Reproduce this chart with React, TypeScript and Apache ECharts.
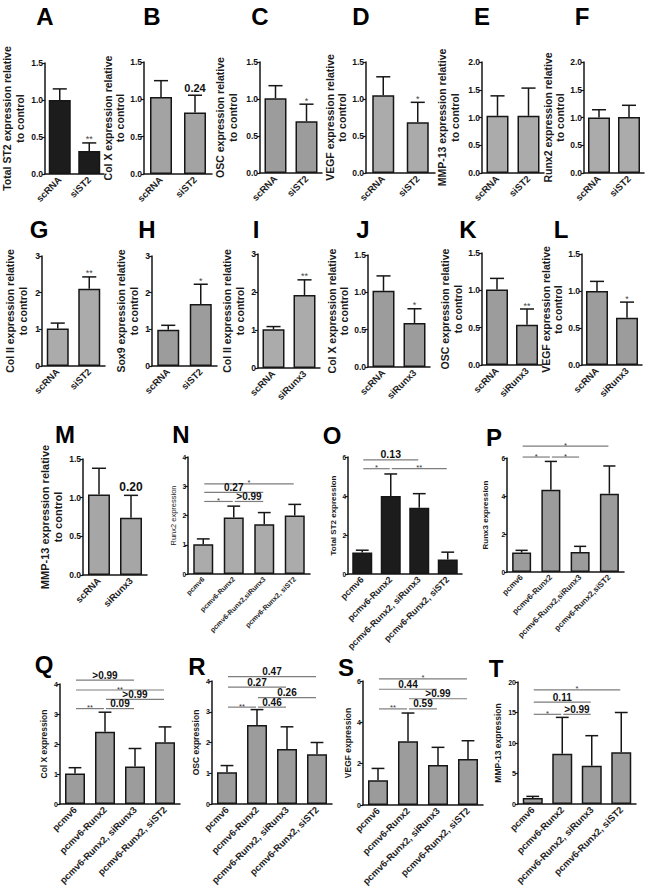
import React, { useEffect, useRef } from "react";
import * as echarts from "echarts";

// ---------- categories ----------
const stCats = ["scRNA", "siST2"];
const rxCats = ["scRNA", "siRunx3"];
const nCats = ["pcmv6", "pcmv6-Runx2", "pcmv6-Runx2,siRunx3", "pcmv6-Runx2, siST2"];
const oCats = ["pcmv6", "pcmv6-Runx2", "pcmv6-Runx2, siRunx3", "pcmv6-Runx2, siST2"];
const pCats = ["pcmv6", "pcmv6-Runx2", "pcmv6-Runx2,siRunx3", "pcmv6-Runx2,siST2"];

// ---------- values (mean, SEM, significance above bars) ----------
const aMean = [1.0, 0.31];
const aSem = [0.15, 0.11];
const aSig = ["", "**"];
const bMean = [1.03, 0.825];
const bSem = [0.22, 0.23];
const bSig = ["", "0.24"];
const cMean = [1.01, 0.7];
const cSem = [0.17, 0.23];
const cSig = ["", "*"];
const dMean = [1.05, 0.685];
const dSem = [0.25, 0.27];
const dSig = ["", "*"];
const eMean = [1.03, 1.03];
const eSem = [0.36, 0.5];
const eSig = ["", ""];
const fMean = [1.0, 1.01];
const fSem = [0.14, 0.21];
const fSig = ["", ""];
const gMean = [1.02, 2.11];
const gSem = [0.15, 0.32];
const gSig = ["", "**"];
const hMean = [0.99, 1.69];
const hSem = [0.12, 0.54];
const hSig = ["", "*"];
const iMean = [1.02, 1.92];
const iSem = [0.07, 0.4];
const iSig = ["", "**"];
const jMean = [1.02, 0.59];
const jSem = [0.2, 0.19];
const jSig = ["", "*"];
const kMean = [1.01, 0.54];
const kSem = [0.15, 0.21];
const kSig = ["", "**"];
const lMean = [1.0, 0.64];
const lSem = [0.13, 0.21];
const lSig = ["", "*"];
const mMean = [1.04, 0.74];
const mSem = [0.34, 0.29];
const mSig = ["", "0.20"];
const nMean = [1.02, 1.93, 1.7, 2.0];
const nSem = [0.18, 0.39, 0.4, 0.38];
const oMean = [1.1, 4.0, 3.4, 0.75];
const oSem = [0.12, 1.13, 0.72, 0.37];
const pMean = [1.02, 4.33, 1.05, 4.12];
const pSem = [0.12, 1.49, 0.3, 1.46];
const qMean = [1.02, 2.41, 1.25, 2.06];
const qSem = [0.19, 0.65, 0.6, 0.51];
const rMean = [1.03, 2.57, 1.79, 1.62];
const rSem = [0.22, 0.5, 0.72, 0.38];
const sMean = [1.2, 3.08, 1.93, 2.23];
const sSem = [0.57, 1.37, 0.86, 0.88];
const tMean = [1.0, 8.23, 6.27, 8.5];
const tSem = [0.25, 5.97, 4.93, 6.5];

// ---------- comparison brackets: [from, to, level, label] ----------
type Bracket = [number, number, number, string];
const nBrackets: Bracket[] = [
  [0, 3, 3.08, "*"],
  [0, 2, 2.79, "0.27"],
  [0, 1, 2.48, "*"],
  [1, 2, 2.48, ">0.99"],
];
const oBrackets: Bracket[] = [
  [0, 2, 5.85, "0.13"],
  [0, 1, 5.4, "*"],
  [1, 3, 5.4, "**"],
];
const pBrackets: Bracket[] = [
  [0, 3, 6.63, "*"],
  [0, 1, 6.05, "*"],
  [1, 2, 6.05, "*"],
];
const qBrackets: Bracket[] = [
  [0, 2, 4.13, ">0.99"],
  [0, 3, 3.8, "**"],
  [1, 3, 3.49, ">0.99"],
  [0, 1, 3.18, "**"],
  [1, 2, 3.18, "0.09"],
];
const rBrackets: Bracket[] = [
  [0, 3, 4.14, "0.47"],
  [0, 2, 3.8, "0.27"],
  [1, 3, 3.46, "0.26"],
  [0, 1, 3.15, "**"],
  [1, 2, 3.15, "0.46"],
];
const sBrackets: Bracket[] = [
  [0, 3, 6.1, "*"],
  [0, 2, 5.6, "0.44"],
  [1, 3, 5.14, ">0.99"],
  [0, 1, 4.65, "**"],
  [1, 2, 4.65, "0.59"],
];
const tBrackets: Bracket[] = [
  [0, 3, 18.7, "*"],
  [0, 2, 16.7, "0.11"],
  [0, 1, 14.7, "*"],
  [1, 2, 14.7, ">0.99"],
];

// ---------- panel layout ----------
const FONT = '"Liberation Sans", Arial, sans-serif';

interface Panel {
  letter: string;
  lx: number;
  ly: number;
  left: number;
  top: number;
  width: number;
  height: number;
  cats: string[];
  mean: number[];
  sem: number[];
  sig?: string[];
  brackets?: Bracket[];
  max: number;
  interval: number;
  dec: number;
  color: string;
  barWidth: number;
  yName: string;
  nameGap: number;
  nameSize: number;
  nameBold: boolean;
  tickSize: number;
  xSize: number;
  numSize: number;
}

const rel = "\nto control";
const G1 = "#ababab";
const G2 = "#9c9c9c";
const BLK = "#1c1c1c";

const row12 = { nameSize: 10.5, nameBold: true, tickSize: 8.5, xSize: 9.5, barWidth: 22, numSize: 11 };
const row4 = { nameSize: 8.5, nameBold: true, tickSize: 7, xSize: 9.5, barWidth: 20, numSize: 10 };

const panels: Panel[] = [
  { letter: "A", lx: 45, ly: 15, left: 40, top: 63, width: 64, height: 111, cats: stCats, mean: aMean, sem: aSem, sig: aSig, max: 1.5, interval: 0.5, dec: 1, color: BLK, yName: "Total ST2 expression relative" + rel, nameGap: 19, ...row12 },
  { letter: "B", lx: 152, ly: 15, left: 144, top: 62, width: 68, height: 112, cats: stCats, mean: bMean, sem: bSem, sig: bSig, max: 1.5, interval: 0.5, dec: 1, color: "#a3a3a3", yName: "Col X expression relative" + rel, nameGap: 17, ...row12 },
  { letter: "C", lx: 260, ly: 15, left: 260, top: 62, width: 62, height: 111, cats: stCats, mean: cMean, sem: cSem, sig: cSig, max: 1.5, interval: 0.5, dec: 1, color: G2, yName: "OSC expression relative" + rel, nameGap: 21, ...row12 },
  { letter: "D", lx: 361, ly: 15, left: 366, top: 62, width: 69, height: 111, cats: stCats, mean: dMean, sem: dSem, sig: dSig, max: 1.5, interval: 0.5, dec: 1, color: G1, yName: "VEGF expression relative" + rel, nameGap: 17, ...row12 },
  { letter: "E", lx: 482, ly: 15, left: 482, top: 62, width: 62, height: 111, cats: stCats, mean: eMean, sem: eSem, sig: eSig, max: 2.0, interval: 0.5, dec: 1, color: G1, yName: "MMP-13 expression relative" + rel, nameGap: 21, ...row12 },
  { letter: "F", lx: 582, ly: 15, left: 584, top: 62, width: 60, height: 111, cats: stCats, mean: fMean, sem: fSem, sig: fSig, max: 2.0, interval: 0.5, dec: 1, color: G1, yName: "Runx2 expression relative" + rel, nameGap: 17, ...row12 },

  { letter: "G", lx: 39, ly: 228, left: 42, top: 256, width: 63, height: 110, cats: stCats, mean: gMean, sem: gSem, sig: gSig, max: 3, interval: 1, dec: 0, color: G1, yName: "Col II expression relative" + rel, nameGap: 13, ...row12 },
  { letter: "H", lx: 147, ly: 228, left: 152, top: 256, width: 65, height: 110, cats: stCats, mean: hMean, sem: hSem, sig: hSig, max: 3, interval: 1, dec: 0, color: G2, yName: "Sox9 expression relative" + rel, nameGap: 12, ...row12 },
  { letter: "I", lx: 256, ly: 228, left: 258, top: 254, width: 62, height: 114, cats: rxCats, mean: iMean, sem: iSem, sig: iSig, max: 3, interval: 1, dec: 0, color: G1, yName: "Col II expression relative" + rel, nameGap: 12, ...row12 },
  { letter: "J", lx: 363, ly: 228, left: 368, top: 255, width: 62, height: 112, cats: rxCats, mean: jMean, sem: jSem, sig: jSig, max: 1.5, interval: 0.5, dec: 1, color: G2, yName: "Col X expression relative" + rel, nameGap: 17, ...row12 },
  { letter: "K", lx: 468, ly: 228, left: 482, top: 253, width: 60, height: 112, cats: rxCats, mean: kMean, sem: kSem, sig: kSig, max: 1.5, interval: 0.5, dec: 1, color: G2, yName: "OSC expression relative" + rel, nameGap: 18, ...row12 },
  { letter: "L", lx: 561, ly: 228, left: 582, top: 254, width: 60, height: 111, cats: rxCats, mean: lMean, sem: lSem, sig: lSig, max: 1.5, interval: 0.5, dec: 1, color: G2, yName: "VEGF expression relative" + rel, nameGap: 17, ...row12 },

  { letter: "M", lx: 65, ly: 433, left: 83, top: 459, width: 64, height: 116, cats: rxCats, mean: mMean, sem: mSem, sig: mSig, max: 1.5, interval: 0.5, dec: 1, color: "#a6a6a6", yName: "MMP-13 expression relative" + rel, nameGap: 19, nameSize: 11, nameBold: true, tickSize: 8.5, xSize: 9.5, barWidth: 22, numSize: 12 },
  { letter: "N", lx: 181, ly: 433, left: 188, top: 457, width: 122, height: 117, cats: nCats, mean: nMean, sem: nSem, brackets: nBrackets, max: 4, interval: 1, dec: 0, color: G1, yName: "Runx2 expression", nameGap: 9, nameSize: 7.5, nameBold: false, tickSize: 6.5, xSize: 7, barWidth: 20, numSize: 10 },
  { letter: "O", lx: 332, ly: 434, left: 348, top: 457, width: 114, height: 117, cats: oCats, mean: oMean, sem: oSem, brackets: oBrackets, max: 6, interval: 2, dec: 0, color: BLK, yName: "Total ST2 expression", nameGap: 8, nameSize: 8, nameBold: true, tickSize: 6.5, xSize: 9, barWidth: 20, numSize: 10.5 },
  { letter: "P", lx: 494, ly: 436, left: 507, top: 458, width: 117, height: 114, cats: pCats, mean: pMean, sem: pSem, brackets: pBrackets, max: 6, interval: 2, dec: 0, color: G2, yName: "Runx3 expression", nameGap: 17, nameSize: 8, nameBold: true, tickSize: 6.5, xSize: 8, barWidth: 19, numSize: 10 },

  { letter: "Q", lx: 44, ly: 663, left: 60, top: 684, width: 120, height: 120, cats: oCats, mean: qMean, sem: qSem, brackets: qBrackets, max: 4, interval: 1, dec: 0, color: G2, yName: "Col X expression", nameGap: 11, ...row4 },
  { letter: "R", lx: 197, ly: 665, left: 212, top: 681, width: 120, height: 123, cats: oCats, mean: rMean, sem: rSem, brackets: rBrackets, max: 4, interval: 1, dec: 0, color: G2, yName: "OSC expression", nameGap: 11, ...row4 },
  { letter: "S", lx: 346, ly: 666, left: 363, top: 681, width: 120, height: 124, cats: oCats, mean: sMean, sem: sSem, brackets: sBrackets, max: 6, interval: 2, dec: 0, color: G2, yName: "VEGF expression", nameGap: 10, ...row4 },
  { letter: "T", lx: 496, ly: 667, left: 518, top: 682, width: 118, height: 122, cats: oCats, mean: tMean, sem: tSem, brackets: tBrackets, max: 20, interval: 5, dec: 0, color: G2, yName: "MMP-13 expression", nameGap: 15, ...row4 },
];

function buildOption() {
  const grid: any[] = [];
  const xAxis: any[] = [];
  const yAxis: any[] = [];
  const series: any[] = [];
  const graphic: any[] = [];
  const ink = "#161616";

  panels.forEach((p, i) => {
    grid.push({ left: p.left, top: p.top, width: p.width, height: p.height });
    xAxis.push({
      gridIndex: i,
      type: "category",
      data: p.cats,
      axisLine: { lineStyle: { color: ink, width: 1.5 } },
      axisTick: { alignWithLabel: true, length: 3, lineStyle: { color: ink, width: 1.2 } },
      axisLabel: {
        rotate: 45,
        interval: 0,
        margin: 4,
        fontSize: p.xSize,
        fontWeight: "bold",
        fontFamily: FONT,
        color: "#1e1e1e",
      },
    });
    yAxis.push({
      gridIndex: i,
      type: "value",
      min: 0,
      max: p.max,
      interval: p.interval,
      splitLine: { show: false },
      axisLine: { show: true, lineStyle: { color: ink, width: 1.5 } },
      axisTick: { show: true, length: 3, lineStyle: { color: ink, width: 1.2 } },
      axisLabel: {
        margin: 2,
        fontSize: p.tickSize,
        fontWeight: "bold",
        fontFamily: FONT,
        color: "#111",
        formatter: (v: number) => v.toFixed(p.dec),
      },
      name: p.yName,
      nameLocation: "middle",
      nameRotate: 90,
      nameGap: p.nameGap,
      nameTextStyle: {
        fontSize: p.nameSize,
        fontWeight: p.nameBold ? "bold" : "normal",
        fontFamily: FONT,
        color: "#1a1a1a",
        lineHeight: p.nameSize + 2,
      },
    });
    series.push({
      type: "bar",
      xAxisIndex: i,
      yAxisIndex: i,
      data: p.mean,
      barWidth: p.barWidth,
      silent: true,
      itemStyle: { color: p.color, borderColor: ink, borderWidth: 1.5 },
    });
    const bw = p.barWidth;
    series.push({
      type: "custom",
      xAxisIndex: i,
      yAxisIndex: i,
      silent: true,
      z: 5,
      data: p.mean.map((m, k) => [k, m, p.sem[k]]),
      encode: { x: 0, y: 1 },
      renderItem: (params: any, api: any) => {
        const k = api.value(0);
        const m = api.value(1);
        const s = api.value(2);
        const base = api.coord([k, m]);
        const top = api.coord([k, m + s]);
        const half = bw * 0.32;
        const children: any[] = [
          { type: "line", shape: { x1: base[0], y1: base[1], x2: top[0], y2: top[1] }, style: { stroke: ink, lineWidth: 1.5 } },
          { type: "line", shape: { x1: top[0] - half, y1: top[1], x2: top[0] + half, y2: top[1] }, style: { stroke: ink, lineWidth: 1.5 } },
        ];
        const lab = p.sig ? p.sig[params.dataIndex] : "";
        if (lab) {
          const isNum = /\d/.test(lab);
          children.push({
            type: "text",
            x: top[0],
            y: isNum ? top[1] - 2 : top[1] + 1,
            style: {
              text: lab,
              align: "center",
              verticalAlign: "bottom",
              font: isNum ? `bold ${p.numSize}px ${FONT}` : `9px ${FONT}`,
              fill: isNum ? "#111" : "#444",
            },
          });
        }
        return { type: "group", children };
      },
    });
    if (p.brackets && p.brackets.length) {
      const br = p.brackets;
      series.push({
        type: "custom",
        xAxisIndex: i,
        yAxisIndex: i,
        silent: true,
        z: 6,
        clip: false,
        data: br.map((b) => [b[0], b[1], b[2]]),
        encode: { x: [0, 1], y: 2 },
        renderItem: (params: any, api: any) => {
          const a = api.coord([api.value(0), api.value(2)]);
          const b = api.coord([api.value(1), api.value(2)]);
          const lab = br[params.dataIndex][3];
          const isNum = /\d/.test(lab);
          return {
            type: "group",
            children: [
              { type: "line", shape: { x1: a[0] + 1, y1: a[1], x2: b[0] - 1, y2: b[1] }, style: { stroke: "#7d7d7d", lineWidth: 1.2 } },
              {
                type: "text",
                x: (a[0] + b[0]) / 2,
                y: isNum ? a[1] : a[1] + 3,
                style: {
                  text: lab,
                  align: "center",
                  verticalAlign: "bottom",
                  font: isNum ? `bold ${p.numSize}px ${FONT}` : `7.5px ${FONT}`,
                  fill: isNum ? "#111" : "#333",
                },
              },
            ],
          };
        },
      });
    }
    graphic.push({
      type: "text",
      x: p.lx,
      y: p.ly + 1,
      style: {
        text: p.letter,
        font: `bold 24px ${FONT}`,
        fill: "#000",
        align: "center",
        verticalAlign: "middle",
      },
    });
  });

  return {
    animation: false,
    backgroundColor: "#ffffff",
    grid,
    xAxis,
    yAxis,
    series,
    graphic,
  };
}

export default function App() {
  const ref = useRef<HTMLDivElement>(null);
  useEffect(() => {
    if (!ref.current) return;
    const chart = echarts.init(ref.current, undefined, { renderer: "svg" });
    chart.setOption(buildOption() as any);
    return () => chart.dispose();
  }, []);
  return (
    <div
      ref={ref}
      style={{ position: "fixed", left: 0, top: 0, width: 660, height: 889, background: "#fff" }}
    />
  );
}
